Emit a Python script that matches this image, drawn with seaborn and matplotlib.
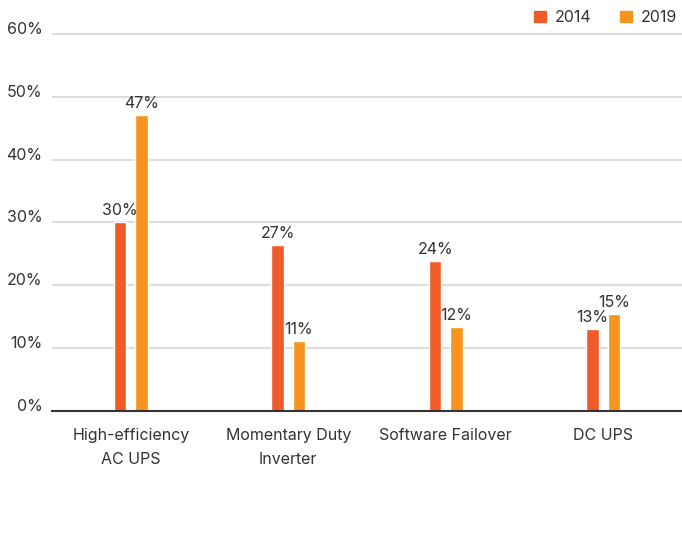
import matplotlib
matplotlib.use('Agg')
import matplotlib.pyplot as plt
from matplotlib.patches import Patch
import seaborn as sns
import pandas as pd

# data
categories = ['High-efficiency\nAC UPS', 'Momentary Duty\nInverter', 'Software Failover', 'DC UPS']
years = ['2014', '2019']
share_2014 = [30.0, 26.4, 23.8, 13.0]
share_2019 = [47.1, 11.1, 13.3, 15.4]
labels_2014 = ['30%', '27%', '24%', '13%']
labels_2019 = ['47%', '11%', '12%', '15%']
yticks = [0, 10, 20, 30, 40, 50, 60]
colors = ['#F15A29', '#F7941E']
text_color = '#333333'

df = pd.DataFrame({
    'category': categories * 2,
    'year': [years[0]] * len(categories) + [years[1]] * len(categories),
    'share': share_2014 + share_2019,
})

sns.set_style('white')
plt.rcParams['font.family'] = ['Inter', 'DejaVu Sans']
fs = 11.5

fig = plt.figure(figsize=(6.82, 5.34), dpi=100)
ax = fig.add_axes([52 / 682, 123 / 534, 630 / 682, 383.3 / 534])

sns.barplot(data=df, x='category', y='share', hue='year', palette=colors,
            width=0.27, gap=0.42, ax=ax, legend=False, saturation=1)

ax.set_ylim(0, 61)
ax.set_yticks(yticks)
ax.set_yticklabels([f'{v}%' for v in yticks])
for t in ax.get_yticklabels():
    t.set_va('baseline')
ax.tick_params(axis='y', length=0, pad=7, labelsize=fs, labelcolor=text_color)
ax.tick_params(axis='x', length=0, pad=12, labelsize=fs, labelcolor=text_color)
for t in ax.get_xticklabels():
    t.set_linespacing(1.75)
    t.set_va('top')

ax.set_xlabel('')
ax.set_ylabel('')
ax.yaxis.grid(True, color='#DDDDDD', lw=1.5)
ax.set_axisbelow(True)
for s in ['left', 'right', 'top']:
    ax.spines[s].set_visible(False)
ax.spines['bottom'].set_color(text_color)
ax.spines['bottom'].set_linewidth(1.5)

for cont, labs in zip(ax.containers, [labels_2014, labels_2019]):
    ax.bar_label(cont, labels=labs, padding=3, fontsize=fs, color=text_color)

handles = [Patch(color=c, label=y) for c, y in zip(colors, years)]
fig.legend(handles=handles, loc='upper right', bbox_to_anchor=(1.0, 0.99),
           borderaxespad=0.0, borderpad=0.3, ncol=2, frameon=False, fontsize=fs,
           handlelength=0.75, handleheight=0.75, handletextpad=0.55,
           columnspacing=1.8, labelcolor=text_color)

fig.savefig('out.png', dpi=100)
